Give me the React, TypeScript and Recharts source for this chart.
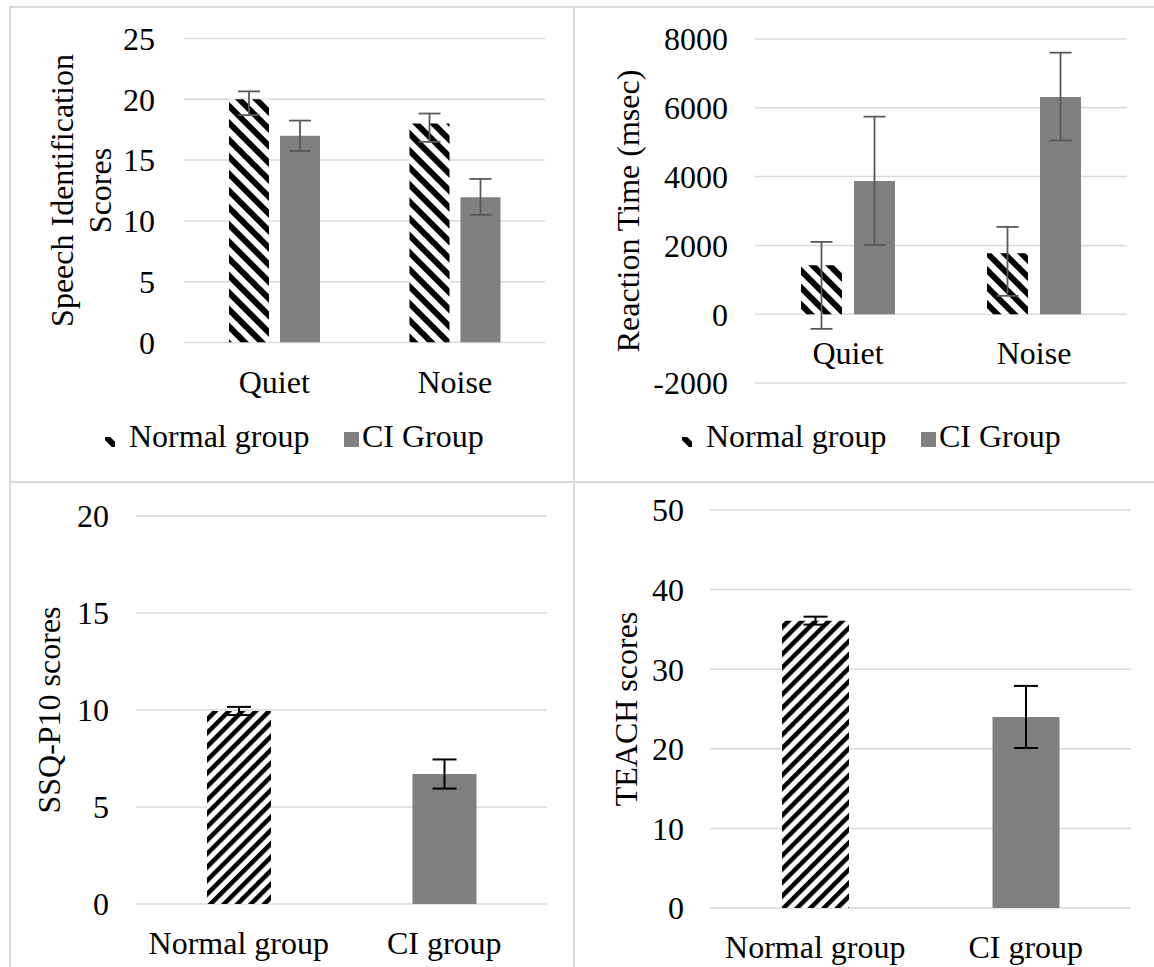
import React from 'react';
import { BarChart, Bar, XAxis, YAxis, CartesianGrid, ErrorBar, Cell } from 'recharts';

const FONT = 'Liberation Serif, Tinos, DejaVu Serif, serif';
const FS = 32;
const GRID = '#d9d9d9';
const CI_FILL = '#808080';
const ERR_TOP = '#595959';
const ERR_BOTTOM = '#000000';

// ---------------- Data ----------------
const conditions = ['Quiet', 'Noise'];
const seriesNames = ['Normal group', 'CI Group'];

// Speech identification scores: [lower, upper] error extents
const speechNormal = [20, 18];
const speechNormalErr = [[1.3, 0.65], [1.5, 0.83]];
const speechCI = [17, 11.95];
const speechCIErr = [[1.25, 1.25], [1.45, 1.5]];
const speechTicks = [0, 5, 10, 15, 20, 25];

// Reaction time (msec)
const rtNormal = [1420, 1770];
const rtNormalErr = [[1846, 682], [1237, 767]];
const rtCI = [3870, 6315];
const rtCIErr = [[1856, 1873], [1259, 1288]];
const rtTicks = [-2000, 0, 2000, 4000, 6000, 8000];

// SSQ-P10 and TEACH
const groups = ['Normal group', 'CI group'];
const ssqValues = [9.95, 6.7];
const ssqErr = [0.21, 0.75];
const ssqTicks = [0, 5, 10, 15, 20];

const teachValues = [36.1, 24];
const teachErr = [0.5, 3.9];
const teachTicks = [0, 10, 20, 30, 40, 50];

// ---------------- Tables ----------------
const speechData = conditions.map((c, i) => ({
  cat: c,
  normal: speechNormal[i],
  normalErr: speechNormalErr[i],
  ci: speechCI[i],
  ciErr: speechCIErr[i],
}));
const rtData = conditions.map((c, i) => ({
  cat: c,
  normal: rtNormal[i],
  normalErr: rtNormalErr[i],
  ci: rtCI[i],
  ciErr: rtCIErr[i],
}));
const ssqData = groups.map((g, i) => ({ cat: g, value: ssqValues[i], err: ssqErr[i] }));
const teachData = groups.map((g, i) => ({ cat: g, value: teachValues[i], err: teachErr[i] }));

// ---------------- Helpers ----------------
const W = 577;
const textStyle: React.CSSProperties = { fontFamily: FONT, fontSize: FS };

function DownPattern({ id }: { id: string }) {
  return (
    <pattern id={id} patternUnits="userSpaceOnUse" width={12} height={12} patternTransform="rotate(-45)">
      <rect x={0} y={0} width={12} height={12} fill="#ffffff" />
      <rect x={0} y={0} width={6} height={12} fill="#000000" />
    </pattern>
  );
}
function UpPattern({ id }: { id: string }) {
  return (
    <pattern id={id} patternUnits="userSpaceOnUse" width={9.5} height={9.5} patternTransform="rotate(45)">
      <rect x={0} y={0} width={9.5} height={9.5} fill="#ffffff" />
      <rect x={0} y={0} width={4.5} height={9.5} fill="#000000" />
    </pattern>
  );
}

function CategoryTick(props: any) {
  const { x, y, payload, shift } = props;
  return (
    <text x={x} y={y + shift} textAnchor="middle" style={textStyle} fill="#000">
      {payload.value}
    </text>
  );
}

function YTitle(props: any) {
  const { lines, xs, cy } = props;
  return (
    <g>
      {lines.map((t: string, i: number) => (
        <text
          key={i}
          x={xs[i]}
          y={cy}
          transform={`rotate(-90 ${xs[i]} ${cy})`}
          textAnchor="middle"
          style={textStyle}
          fill="#000"
        >
          {t}
        </text>
      ))}
    </g>
  );
}

function zeroShift(height: number, margin: any, xHeight: number, ticks: number[]) {
  const plotTop = margin.top;
  const plotBottom = height - margin.bottom - xHeight;
  const min = ticks[0];
  const max = ticks[ticks.length - 1];
  const zeroY = plotBottom - ((plotBottom - plotTop) * (0 - min)) / (max - min);
  return zeroY - plotBottom + 50;
}

function TopLegend({ left, pid }: { left: number; pid: string }) {
  return (
    <svg style={{ position: 'absolute', left, top: 420, overflow: 'visible' }} width={W} height={40}>
      <defs>
        <DownPattern id={pid} />
      </defs>
      <rect x={105} y={17} width={10} height={10} fill={`url(#${pid})`} />
      <text x={129} y={27} style={textStyle} fill="#000">
        {seriesNames[0]}
      </text>
      <rect x={344} y={12} width={15} height={15} fill={CI_FILL} />
      <text x={362} y={27} style={textStyle} fill="#000">
        {seriesNames[1]}
      </text>
    </svg>
  );
}

type TopCfg = {
  data: any[];
  ticks: number[];
  height: number;
  margin: { top: number; right: number; bottom: number; left: number };
  yWidth: number;
  yTickMargin: number;
  xHeight: number;
  title: string[];
  titleX: number[];
  barSize: number;
  barGap: number;
  pid: string;
};

function TopChart(c: TopCfg) {
  const shift = zeroShift(c.height, c.margin, c.xHeight, c.ticks);
  const plotBottom = c.height - c.margin.bottom - c.xHeight;
  const cy = (c.margin.top + plotBottom) / 2;
  return (
    <BarChart width={W} height={c.height} data={c.data} margin={c.margin} barSize={c.barSize} barGap={c.barGap}>
      <defs>
        <DownPattern id={c.pid} />
      </defs>
      <CartesianGrid vertical={false} stroke={GRID} strokeWidth={1.5} />
      <XAxis
        dataKey="cat"
        height={c.xHeight}
        axisLine={false}
        tickLine={false}
        tickSize={0}
        tickMargin={0}
        interval={0}
        tick={(p: any) => <CategoryTick {...p} shift={shift} />}
      />
      <YAxis
        width={c.yWidth}
        domain={[c.ticks[0], c.ticks[c.ticks.length - 1]]}
        ticks={c.ticks}
        allowDataOverflow
        axisLine={false}
        tickLine={false}
        tickSize={0}
        tickMargin={c.yTickMargin}
        tick={{ fill: '#000', fontSize: FS, fontFamily: FONT, style: textStyle }}
        label={<YTitle lines={c.title} xs={c.titleX} cy={cy} />}
      />
      <Bar dataKey="normal" fill={`url(#${c.pid})`} isAnimationActive={false}>
        <ErrorBar dataKey="normalErr" direction="y" width={11} stroke={ERR_TOP} strokeWidth={1.8} />
      </Bar>
      <Bar dataKey="ci" fill={CI_FILL} isAnimationActive={false}>
        <ErrorBar dataKey="ciErr" direction="y" width={11} stroke={ERR_TOP} strokeWidth={1.8} />
      </Bar>
    </BarChart>
  );
}

type BotCfg = {
  data: any[];
  ticks: number[];
  height: number;
  margin: { top: number; right: number; bottom: number; left: number };
  yWidth: number;
  yTickMargin: number;
  xHeight: number;
  title: string[];
  titleX: number[];
  barSize: number;
  pid: string;
};

function BottomChart(c: BotCfg) {
  const shift = zeroShift(c.height, c.margin, c.xHeight, c.ticks);
  const plotBottom = c.height - c.margin.bottom - c.xHeight;
  const cy = (c.margin.top + plotBottom) / 2;
  return (
    <BarChart width={W} height={c.height} data={c.data} margin={c.margin} barSize={c.barSize}>
      <defs>
        <UpPattern id={c.pid} />
      </defs>
      <CartesianGrid vertical={false} stroke={GRID} strokeWidth={1.5} />
      <XAxis
        dataKey="cat"
        height={c.xHeight}
        axisLine={false}
        tickLine={false}
        tickSize={0}
        tickMargin={0}
        interval={0}
        tick={(p: any) => <CategoryTick {...p} shift={shift} />}
      />
      <YAxis
        width={c.yWidth}
        domain={[c.ticks[0], c.ticks[c.ticks.length - 1]]}
        ticks={c.ticks}
        allowDataOverflow
        axisLine={false}
        tickLine={false}
        tickSize={0}
        tickMargin={c.yTickMargin}
        tick={{ fill: '#000', fontSize: FS, fontFamily: FONT, style: textStyle }}
        label={<YTitle lines={c.title} xs={c.titleX} cy={cy} />}
      />
      <Bar dataKey="value" isAnimationActive={false}>
        {c.data.map((d, i) => (
          <Cell key={d.cat} fill={i === 0 ? `url(#${c.pid})` : CI_FILL} />
        ))}
        <ErrorBar dataKey="err" direction="y" width={12} stroke={ERR_BOTTOM} strokeWidth={2} />
      </Bar>
    </BarChart>
  );
}

const lineStyle = (l: number, t: number, w: number, h: number): React.CSSProperties => ({
  position: 'absolute',
  left: l,
  top: t,
  width: w,
  height: h,
  background: GRID,
});

export default function App() {
  return (
    <div style={{ position: 'absolute', left: 0, top: 0, width: 1154, height: 967, background: '#fff', overflow: 'hidden', fontFamily: FONT }}>
      {/* panel borders */}
      <div style={lineStyle(9, 6, 1145, 2)} />
      <div style={lineStyle(9, 6, 2, 961)} />
      <div style={lineStyle(573, 6, 2, 961)} />
      <div style={lineStyle(9, 481, 1145, 2)} />

      <div style={{ position: 'absolute', left: 0, top: 0 }}>
        <TopChart
          data={speechData}
          ticks={speechTicks}
          height={480}
          margin={{ top: 38.5, right: 32, bottom: 37.5, left: 0 }}
          yWidth={184}
          yTickMargin={29}
          xHeight={100}
          title={['Speech Identification', 'Scores']}
          titleX={[72.5, 110.5]}
          barSize={40}
          barGap={11}
          pid="downA"
        />
      </div>
      <TopLegend left={0} pid="legA" />

      <div style={{ position: 'absolute', left: 577, top: 0 }}>
        <TopChart
          data={rtData}
          ticks={rtTicks}
          height={480}
          margin={{ top: 39, right: 27, bottom: 37, left: 0 }}
          yWidth={178}
          yTickMargin={27}
          xHeight={60}
          title={['Reaction Time (msec)']}
          titleX={[61.5]}
          barSize={41}
          barGap={12}
          pid="downB"
        />
      </div>
      <TopLegend left={577} pid="legB" />

      <div style={{ position: 'absolute', left: 0, top: 480 }}>
        <BottomChart
          data={ssqData}
          ticks={ssqTicks}
          height={487}
          margin={{ top: 36, right: 30, bottom: 23, left: 0 }}
          yWidth={136}
          yTickMargin={27}
          xHeight={40}
          title={['SSQ-P10 scores']}
          titleX={[60]}
          barSize={64}
          pid="upC"
        />
      </div>

      <div style={{ position: 'absolute', left: 577, top: 480 }}>
        <BottomChart
          data={teachData}
          ticks={teachTicks}
          height={487}
          margin={{ top: 30, right: 23, bottom: 19, left: 0 }}
          yWidth={133}
          yTickMargin={26}
          xHeight={40}
          title={['TEACH scores']}
          titleX={[59.5]}
          barSize={67}
          pid="upD"
        />
      </div>
    </div>
  );
}
